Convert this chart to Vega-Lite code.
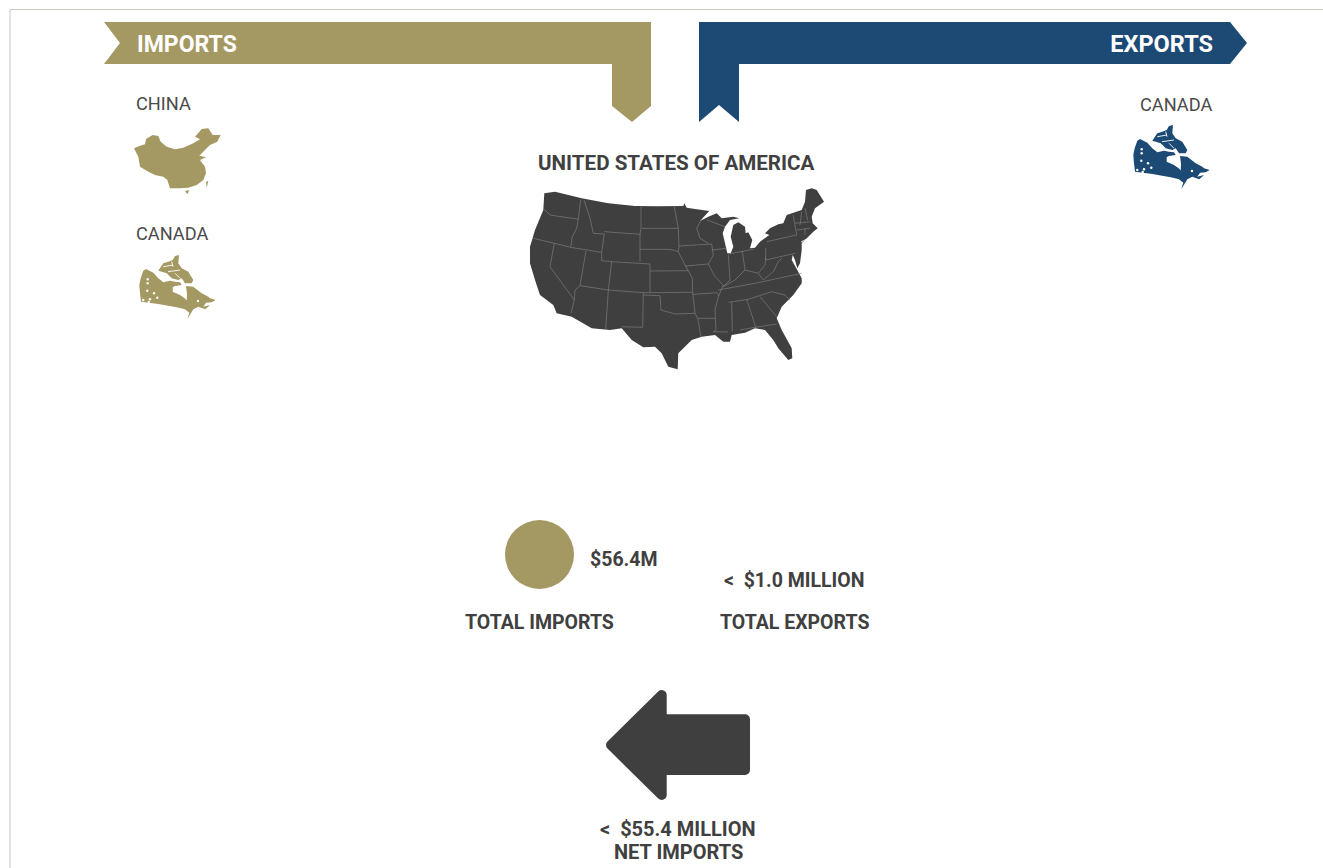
{"$schema":"https://vega.github.io/schema/vega-lite/v6.json","width":1323,"height":868,"padding":0,"autosize":{"type":"none"},"background":"white","config":{"view":{"stroke":null}},
"datasets":{
"lines":[
{"type":"Feature","properties":{"group":"frame"},"geometry":{"type":"LineString","coordinates":[[1323,9.5],[10,9.5],[10,868]]}},
{"type":"Feature","properties":{"group":"state"},"geometry":{"type":"MultiLineString","coordinates":[
[[544.3,209.3],[550,215],[565,217.3],[578.3,219]],[[580.7,199.3],[578.3,219],[576.7,228.3],[572.3,236.7],[570.7,247.3]],[[533.3,238.3],[554.3,243.3],[570.7,247.3],[601,252.3]],[[554.3,243.3],[550,266.7],[574.3,300],[571,313.3]],[[586,250.7],[580,285.7],[575,290],[574.3,300]],[[584,200],[590,218.3],[593.3,233.3],[604.3,234],[601.7,252.3],[601.7,260.7],[611.7,261.7],[608.3,290]],[[580,285.7],[608.3,290],[643.3,292.7],[692.7,292.3]],[[608.3,290],[605.7,329.3]],[[643.3,292.7],[642.7,327.3],[621.7,326.7]],[[604.3,231.7],[640.7,234.3]],[[641,206.7],[641,228.3],[640,234.3],[640,261.7]],[[611.7,261.7],[650,264],[650,292.7]],[[640,249.3],[670,249.3],[678.3,251.7]],[[650,271],[688.3,270.7]],[[641.7,228.3],[678.3,228.3]],[[674.3,206.7],[678.3,228.3],[679,246],[678.3,251.7],[685,265],[688.3,270.7],[692.3,278.3],[692.7,292.3],[695,313.3],[697.7,318.3],[701,336.7]],[[643.3,295],[660,295.7],[661,310],[675,314],[695,313.3]],[[697.7,318.3],[715,318.3]],[[692.7,294.3],[716.7,292.7],[719,296]],[[718.3,296.7],[715,310],[716,330],[713.3,331.7],[728,332]],[[679,246],[711.7,244]],[[685,266],[708.3,264]],[[701.7,219],[696.7,228.3],[700,238.3],[708.3,243.3]],[[711.7,250],[726.7,248.3]],[[711.7,244],[713.3,255],[708.3,264],[715,276.7],[723.3,285],[718.3,296.7]],[[728.3,255],[730,280],[723.3,286.7]],[[742.3,251],[745,270]],[[728.3,254],[753.3,249.3]],[[723.3,286.7],[735,280],[745,270],[758.3,273.3],[765,265],[765.7,256.7]],[[765.7,248.3],[765.7,260]],[[766.7,241.7],[796.7,235]],[[765.7,260],[795,253.3]],[[758.3,273.3],[763.3,280],[773.3,271.7],[778.3,261.7],[781.7,258.3]],[[718.3,290],[755,283.3],[801.7,273.3]],[[728.3,302.3],[748.3,299.3],[761.7,295],[771.7,291.7],[785,295],[790,300]],[[731.7,302.3],[732.3,331.7]],[[746.7,299.3],[755,325],[755.7,328.3]],[[760,296.7],[776.7,316.7]],[[740,330],[755,327.3],[776.7,324]],[[793.3,215],[796.7,235]],[[801.7,211.7],[800,225]],[[805,208.3],[807.7,220]],[[795,223.3],[810,221.7]],[[796.7,230],[810,228.3]],[[805,228.3],[805,235]],[[706.7,220],[725,226.7]]
]}}
],
"shapes":[
{"type":"Feature","properties":{"group":"imports"},"geometry":{"type":"MultiPolygon","coordinates":[
[[[104,22],[651,22],[651,106],[632,122],[612,106],[612,64],[104,64],[120,43],[104,22]]],
[[[134,148.3],[140,145.7],[145,144.3],[146,139],[152.7,135],[158.3,136],[160.7,141.7],[166.7,146.7],[175,149.3],[183.3,147.7],[193.3,143.3],[200,139.3],[195,136.7],[201.7,129],[208.3,128.3],[212.7,135],[220.7,135],[217.3,141.7],[210,145],[205,150],[199.3,155.7],[206,157.3],[200,160],[205,166.7],[206,173.3],[203.3,180],[196.7,185],[188.3,187.7],[180,188.3],[170,188.3],[167.3,180],[163.3,176.7],[155,175],[148.3,171.7],[140,166.7],[138.3,156.7],[134,148.3]]],
[[[206,181.7],[208.3,181],[206.7,187.7],[206,181.7]]],
[[[185,191],[189.3,190],[187.3,194.3],[185,191]]],
[[[139.3,285],[140.7,278.3],[143.3,270.7],[146,269],[153.3,272.7],[158.3,278.3],[163.3,282.3],[170,280.7],[175,281.7],[180,282.3],[181.7,285],[175,286],[172.7,287.3],[172.7,291.7],[180,295],[185,298.5],[186.7,300.5],[187,294],[186,286],[193.3,286.7],[201.7,293.3],[208.3,296.7],[210,298.3],[215.7,300],[211.7,302.3],[206,302.7],[203.3,306.7],[210,305],[205.3,309.3],[198.3,306.7],[193.3,309.3],[187.3,319.3],[189.3,312.7],[185,309.3],[176.7,307.3],[158.3,304],[141,301.7],[140,293.3],[139.3,285]]],
[[[158.3,270.7],[163.3,263.3],[168.3,261.7],[172.7,260],[175,256],[179,255],[178.3,263.3],[181.7,268.3],[188.3,271.7],[193.3,280],[191.7,283.3],[185,283.3],[181.7,278.3],[178.3,280],[171.7,278.3],[166.7,273.3],[161.7,271.7],[158.3,270.7]]]
]}},
{"type":"Feature","properties":{"group":"exports"},"geometry":{"type":"MultiPolygon","coordinates":[
[[[699,22],[1230,22],[1247,43],[1230,64],[739,64],[739,122],[719,105],[699,122],[699,22]]],
[[[1133.3,155],[1134.7,148.3],[1137.3,140.7],[1140,139],[1147.3,142.7],[1152.3,148.3],[1157.3,152.3],[1164,150.7],[1169,151.7],[1174,152.3],[1175.7,155],[1169,156],[1166.7,157.3],[1166.7,161.7],[1174,165],[1179,168.5],[1180.7,170.5],[1181,164],[1180,156],[1187.3,156.7],[1195.7,163.3],[1202.3,166.7],[1204,168.3],[1209.7,170],[1205.7,172.3],[1200,172.7],[1197.3,176.7],[1204,175],[1199.3,179.3],[1192.3,176.7],[1187.3,179.3],[1181.3,189.3],[1183.3,182.7],[1179,179.3],[1170.7,177.3],[1152.3,174],[1135,171.7],[1134,163.3],[1133.3,155]]],
[[[1152.3,140.7],[1157.3,133.3],[1162.3,131.7],[1166.7,130],[1169,126],[1173,125],[1172.3,133.3],[1175.7,138.3],[1182.3,141.7],[1187.3,150],[1185.7,153.3],[1179,153.3],[1175.7,148.3],[1172.3,150],[1165.7,148.3],[1160.7,143.3],[1155.7,141.7],[1152.3,140.7]]]
]}},
{"type":"Feature","properties":{"group":"usa"},"geometry":{"type":"Polygon","coordinates":[[[544.3,193.3],[555,191.7],[581.7,198.3],[608.3,203.3],[635,206],[658.3,206.3],[683.3,206],[684.3,203.3],[686.7,207.7],[695,209],[709.3,211],[700,221],[708.3,216.7],[716.7,213.3],[721.7,218.3],[733.3,216.7],[739.3,218.3],[730,220],[725,226.7],[722.7,233.3],[725,243.3],[727.3,253.3],[730.7,253.3],[733.3,246.7],[730.7,236.7],[733.3,225],[738.3,222.3],[745,226.7],[745.7,233.3],[748.3,232.3],[752.3,240],[750,248.3],[755,247.7],[760,241.7],[769.3,235],[765,233.3],[770,228.3],[778.3,224.3],[783.3,223.3],[786.7,215],[801.7,210],[805,201.7],[806,190],[811.7,188.3],[816.7,190],[824,201.7],[815,208.3],[811.7,216.7],[812.7,223.3],[817.7,228.3],[813.3,231.7],[805,240],[801.7,243.3],[801.7,250],[800,263.3],[797.3,268.3],[795,260],[792.7,255],[791.7,260],[797.3,270],[801.7,278.3],[801.7,283.3],[793.3,295],[781.7,306.7],[776.7,318.3],[781.7,330],[791.7,348.3],[792.3,358.3],[788.3,360],[778.3,348.3],[773.3,340],[765,330],[755,328.3],[745,332.7],[731.7,335],[730,341.7],[723.3,341.7],[715,335],[701.7,336.7],[691.7,340],[678.3,353.3],[677.7,369.3],[668.3,366.7],[661.7,353.3],[655,346.7],[643.3,347.3],[631.7,340],[621.7,328.3],[610,330],[591.7,328.3],[571.7,316.7],[556.7,313.3],[553.3,305],[540,295],[535,280],[530,263.3],[530,246.7],[535,230],[543.3,210],[544.3,193.3]]]}}
],
"channels":[
{"type":"Feature","properties":{"group":"channel"},"geometry":{"type":"MultiLineString","coordinates":[
[[163.3,266.7],[173,265]],[[168,271.7],[180,270]],[[175,273.3],[180,278.3]],[[171.7,261.7],[173,266.7]],
[[1157.3,136.7],[1167,135]],[[1162,141.7],[1174,140]],[[1169,143.3],[1174,148.3]],[[1165.7,131.7],[1167,136.7]],
[[801,242],[808,238.5],[812,235]]
]}}
],
"arrow":[
{"type":"Feature","properties":{"group":"net"},"geometry":{"type":"Polygon","coordinates":[[[611,745],[661.7,695],[661.7,719.3],[745,719.3],[745,770],[661.7,770],[661.7,795],[611,745]]]}}
],
"flecks":[
{"x":147.7,"y":279.3},{"x":147.7,"y":283.3},{"x":147.3,"y":290.7},{"x":154,"y":293.3},{"x":157.3,"y":297.7},{"x":150,"y":299.3},{"x":143.3,"y":300},{"x":198,"y":301},{"x":148.7,"y":302},
{"x":1141.7,"y":149.3},{"x":1141.7,"y":153.3},{"x":1141.3,"y":160.7},{"x":1148,"y":163.3},{"x":1151.3,"y":167.7},{"x":1144,"y":169.3},{"x":1137.3,"y":170},{"x":1192,"y":171},{"x":1142.7,"y":172}
],
"heads":[{"label":"IMPORTS","x":137,"y":45}],
"countries":[
{"label":"CHINA","x":136,"y":105},
{"label":"CANADA","x":136,"y":235},
{"label":"CANADA","x":1140,"y":106}
],
"title":[{"label":"UNITED STATES OF AMERICA","x":538,"y":163.5}],
"stats":[
{"label":"$56.4M","x":590,"y":559.5},
{"label":"<\u00a0\u00a0$1.0 MILLION","x":724,"y":580.5},
{"label":"TOTAL IMPORTS","x":465,"y":622.5},
{"label":"TOTAL EXPORTS","x":720,"y":622.5}
],
"net":[
{"label":"<\u00a0\u00a0$55.4 MILLION","x":600,"y":830},
{"label":"NET IMPORTS","x":614,"y":853}
],
"totals":[{"x":539.5,"y":554.5,"imports":56.4}],
"exportLabel":[{"label":"EXPORTS","x":1213,"y":45}]
},
"encoding":{},
"layer":[
{"data":{"name":"shapes"},"mark":{"type":"geoshape","strokeWidth":0},"projection":{"type":"identity","scale":1,"translate":[0,0]},"encoding":{"color":{"field":"properties.group","type":"nominal","legend":null,"scale":{"domain":["imports","exports","usa"],"range":["#a59963","#1d4a74","#3f3f3f"]}}}},
{"data":{"name":"arrow"},"mark":{"type":"geoshape","fill":"#3f3f3f","stroke":"#3f3f3f","strokeWidth":10,"strokeJoin":"round"},"projection":{"type":"identity","scale":1,"translate":[0,0]}},
{"data":{"name":"lines"},"mark":{"type":"geoshape","filled":false,"fill":null,"strokeJoin":"round"},"projection":{"type":"identity","scale":1,"translate":[0,0]},"encoding":{"stroke":{"field":"properties.group","type":"nominal","legend":null,"scale":{"domain":["frame","state"],"range":["#c8c8bc","#85857f"]}},"strokeWidth":{"field":"properties.group","type":"nominal","legend":null,"scale":{"domain":["frame","state"],"range":[1,0.6]}}}},
{"data":{"name":"channels"},"mark":{"type":"geoshape","filled":false,"fill":null,"stroke":"white","strokeWidth":0.9},"projection":{"type":"identity","scale":1,"translate":[0,0]}},
{"data":{"name":"flecks"},"mark":{"type":"circle","color":"white","opacity":1,"size":6},"encoding":{"x":{"field":"x","type":"quantitative","axis":null,"scale":{"domain":[0,1323],"nice":false,"zero":false}},"y":{"field":"y","type":"quantitative","axis":null,"scale":{"domain":[868,0],"nice":false,"zero":false}}}},
{"data":{"name":"totals"},"mark":{"type":"circle","color":"#a59963","opacity":1},"encoding":{"x":{"field":"x","type":"quantitative","axis":null,"scale":{"domain":[0,1323],"nice":false,"zero":false}},"y":{"field":"y","type":"quantitative","axis":null,"scale":{"domain":[868,0],"nice":false,"zero":false}},"size":{"field":"imports","type":"quantitative","legend":null,"scale":{"domain":[0,56.4],"range":[0,4761]}}}},
{"data":{"name":"heads"},"mark":{"type":"text","align":"left","baseline":"middle","font":"Roboto","fontWeight":"bold","fontSize":23,"color":"white"},"encoding":{"x":{"field":"x","type":"quantitative","axis":null,"scale":{"domain":[0,1323],"nice":false,"zero":false}},"y":{"field":"y","type":"quantitative","axis":null,"scale":{"domain":[868,0],"nice":false,"zero":false}},"text":{"field":"label","type":"nominal"}}},
{"data":{"name":"exportLabel"},"mark":{"type":"text","align":"right","baseline":"middle","font":"Roboto","fontWeight":"bold","fontSize":23.5,"color":"white"},"encoding":{"x":{"field":"x","type":"quantitative","axis":null,"scale":{"domain":[0,1323],"nice":false,"zero":false}},"y":{"field":"y","type":"quantitative","axis":null,"scale":{"domain":[868,0],"nice":false,"zero":false}},"text":{"field":"label","type":"nominal"}}},
{"data":{"name":"countries"},"mark":{"type":"text","align":"left","baseline":"middle","font":"Roboto","fontSize":18.2,"color":"#4a4a4a"},"encoding":{"x":{"field":"x","type":"quantitative","axis":null,"scale":{"domain":[0,1323],"nice":false,"zero":false}},"y":{"field":"y","type":"quantitative","axis":null,"scale":{"domain":[868,0],"nice":false,"zero":false}},"text":{"field":"label","type":"nominal"}}},
{"data":{"name":"stats"},"mark":{"type":"text","align":"left","baseline":"middle","font":"Roboto","fontWeight":"bold","fontSize":19.5,"color":"#404040"},"encoding":{"x":{"field":"x","type":"quantitative","axis":null,"scale":{"domain":[0,1323],"nice":false,"zero":false}},"y":{"field":"y","type":"quantitative","axis":null,"scale":{"domain":[868,0],"nice":false,"zero":false}},"text":{"field":"label","type":"nominal"}}},
{"data":{"name":"title"},"mark":{"type":"text","align":"left","baseline":"middle","font":"Roboto","fontWeight":"bold","fontSize":20.6,"color":"#404040"},"encoding":{"x":{"field":"x","type":"quantitative","axis":null,"scale":{"domain":[0,1323],"nice":false,"zero":false}},"y":{"field":"y","type":"quantitative","axis":null,"scale":{"domain":[868,0],"nice":false,"zero":false}},"text":{"field":"label","type":"nominal"}}},
{"data":{"name":"net"},"mark":{"type":"text","align":"left","baseline":"middle","font":"Roboto","fontWeight":"bold","fontSize":20,"color":"#404040"},"encoding":{"x":{"field":"x","type":"quantitative","axis":null,"scale":{"domain":[0,1323],"nice":false,"zero":false}},"y":{"field":"y","type":"quantitative","axis":null,"scale":{"domain":[868,0],"nice":false,"zero":false}},"text":{"field":"label","type":"nominal"}}}
]}
